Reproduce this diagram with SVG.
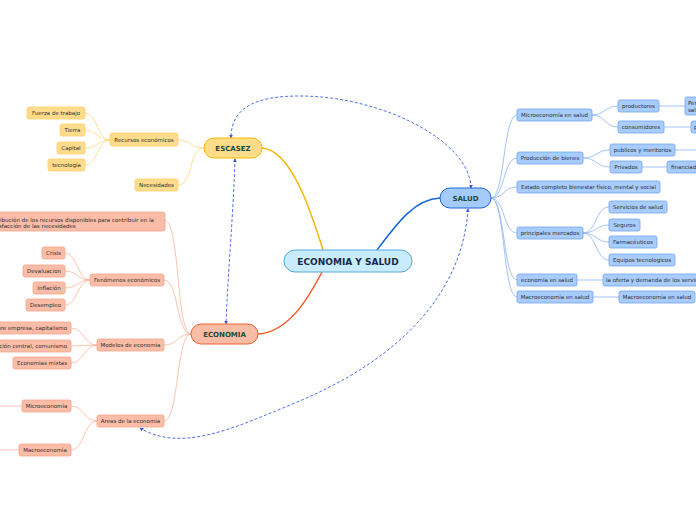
<svg xmlns="http://www.w3.org/2000/svg" width="696" height="520" viewBox="0 0 696 520">
<style>
text{font-family:"DejaVu Sans","Verdana",sans-serif;font-size:5.5px;fill:#2e2e2e}
.t{font-weight:bold;font-size:7px;fill:#1c4a3c;text-anchor:middle}
.c{font-weight:bold;font-size:9px;fill:#172848;text-anchor:middle}
.m{text-anchor:middle}
.e{text-anchor:end}
.y{fill:#ffdc8c;stroke:#ffcf6a;stroke-width:0.8}
.r{fill:#fbbda8;stroke:#f8a58a;stroke-width:0.8}
.b{fill:#a8ccfc;stroke:#74a4ef;stroke-width:0.8}
.ly{fill:none;stroke:#ffd580;stroke-width:0.8}
.lr{fill:none;stroke:#fbb29c;stroke-width:0.8}
.lb{fill:none;stroke:#8cb4f4;stroke-width:0.8}
.d{fill:none;stroke:#4f6fe6;stroke-width:1;stroke-dasharray:3 2;marker-start:url(#ah);marker-end:url(#ah)}
</style>
<defs>
<marker id="ah" viewBox="0 0 6 6" refX="5" refY="3" markerWidth="4" markerHeight="4" orient="auto-start-reverse" markerUnits="userSpaceOnUse">
<path d="M0,0 L6,3 L0,6 z" fill="#3b5bdb"/>
</marker>
</defs>
<rect width="696" height="520" fill="#ffffff"/>
<g id="connectors">
<path d="M262,148 C292,150 312,215 323,250" fill="none" stroke="#f7b500" stroke-width="1.5"/>
<path d="M258,334 C290,332 310,295 322,272" fill="none" stroke="#f05a28" stroke-width="1.5"/>
<path d="M377,250 C398,222 415,199 440,198" fill="none" stroke="#1565d8" stroke-width="1.5"/>
<path class="ly" d="M204,148 C190,148 192,140 178,140"/>
<path class="ly" d="M204,148 C188,148 194,185 178,185"/>
<path class="ly" d="M110,140 C98,140 97,113 85,113"/>
<path class="ly" d="M110,140 C98,140 97,130 85,130"/>
<path class="ly" d="M110,140 C98,140 97,148 85,148"/>
<path class="ly" d="M110,140 C98,140 97,165 85,165"/>
<path class="lr" d="M191,334 C176,334 180,221 165,221"/>
<path class="lr" d="M191,334 C176,334 179,280 164,280"/>
<path class="lr" d="M191,334 C176,334 179,345 164,345"/>
<path class="lr" d="M191,334 C176,334 179,421 164,421"/>
<path class="lr" d="M90,280 C78,280 77,253 65,253"/>
<path class="lr" d="M90,280 C78,280 77,271 65,271"/>
<path class="lr" d="M90,280 C78,280 77,288 65,288"/>
<path class="lr" d="M90,280 C78,280 77,305 65,305"/>
<path class="lr" d="M97,345 C84,345 84,328 71,328"/>
<path class="lr" d="M97,345 L71,346"/>
<path class="lr" d="M97,345 C84,345 84,363 71,363"/>
<path class="lr" d="M97,421 C84,421 84,406 71,406"/>
<path class="lr" d="M97,421 C84,421 84,450 71,450"/>
<path class="lr" d="M22,406 L0,406"/>
<path class="lr" d="M19,450 L0,450"/>
<path class="lb" d="M491,198 C505,198 503,115 517,115"/>
<path class="lb" d="M491,198 C505,198 503,158 517,158"/>
<path class="lb" d="M491,198 C505,198 503,187 517,187"/>
<path class="lb" d="M491,198 C505,198 503,233 517,233"/>
<path class="lb" d="M491,198 C505,198 503,280 517,280"/>
<path class="lb" d="M491,198 C505,198 503,297 517,297"/>
<path class="lb" d="M592,115 C605,115 605,106 618,106"/>
<path class="lb" d="M592,115 C605,115 605,127 618,127"/>
<path class="lb" d="M583,158 C597,158 596,150 610,150"/>
<path class="lb" d="M583,158 C597,158 596,167 610,167"/>
<path class="lb" d="M583,233 C596,233 596,207 609,207"/>
<path class="lb" d="M583,233 C596,233 596,225 609,225"/>
<path class="lb" d="M583,233 C596,233 596,242 609,242"/>
<path class="lb" d="M583,233 C596,233 596,260 609,260"/>
<path class="lb" d="M659,106 L685,106"/>
<path class="lb" d="M664,127 L691,127"/>
<path class="lb" d="M675,150 L696,150"/>
<path class="lb" d="M642,167 L667,167"/>
<path class="lb" d="M577,280 L603,280"/>
<path class="lb" d="M593,297 L619,297"/>
<path class="d" d="M471,188 C470,140 380,96 300,96 C260,96 231,105 231,138"/>
<path class="d" d="M235,159 C233,220 228,270 226,324"/>
<path class="d" d="M468,209 C462,300 390,365 290,405 C230,430 180,452 140,428"/>
</g>
<g id="center"><rect x="284" y="250" width="128" height="22" rx="11" fill="#c8ecfc" stroke="#5ba8dc" stroke-width="1"/><text class="c" x="348" y="264.5">ECONOMIA Y SALUD</text></g>
<g id="escasez"><rect x="204" y="138" width="58" height="20" rx="10" fill="#ffdc8a" stroke="#f7b800" stroke-width="1"/><text class="t" x="233" y="150.5">ESCASEZ</text></g>
<g id="salud"><rect x="440" y="188" width="51" height="20" rx="10" fill="#a5cafc" stroke="#1e64d8" stroke-width="1"/><text class="t" x="465.5" y="200.5">SALUD</text></g>
<g id="economia"><rect x="191" y="324" width="67" height="20" rx="10" fill="#fbbca6" stroke="#f06030" stroke-width="1"/><text class="t" x="224.5" y="336.5">ECONOMIA</text></g>
<g id="recursos"><rect class="y" x="110" y="133" width="68" height="13" rx="2"/><text class="m" x="144" y="141.5">Recursos económicos</text></g>
<g id="fuerza"><rect class="y" x="27" y="107" width="58" height="12" rx="2"/><text class="m" x="56" y="115">Fuerza de trabajo</text></g>
<g id="tierra"><rect class="y" x="60" y="124" width="25" height="12" rx="2"/><text class="m" x="72.5" y="132">Tierra</text></g>
<g id="capital"><rect class="y" x="57" y="142" width="28" height="12" rx="2"/><text class="m" x="71" y="150">Capital</text></g>
<g id="tecnologia"><rect class="y" x="48" y="159" width="37" height="12" rx="2"/><text class="m" x="66.5" y="167">tecnología</text></g>
<g id="necesidades"><rect class="y" x="135" y="179" width="43" height="12" rx="2"/><text class="m" x="156.5" y="187">Necesidades</text></g>
<g id="distribucion"><rect class="r" x="-40" y="212" width="205" height="19" rx="2"/><text x="-13" y="221.5">Distribución de los recursos disponibles para contribuir en la</text><text x="-11" y="228">satisfacción de las necesidades</text></g>
<g id="fenomenos"><rect class="r" x="90" y="274" width="74" height="12" rx="2"/><text class="m" x="127" y="282">Fenómenos económicos</text></g>
<g id="crisis"><rect class="r" x="42" y="247" width="23" height="12" rx="2"/><text class="m" x="53.5" y="255">Crisis</text></g>
<g id="devaluacion"><rect class="r" x="23" y="265" width="42" height="12" rx="2"/><text class="m" x="44" y="273">Devaluacion</text></g>
<g id="inflacion"><rect class="r" x="33" y="282" width="32" height="12" rx="2"/><text class="m" x="49" y="290">Inflación</text></g>
<g id="desempleo"><rect class="r" x="26" y="299" width="39" height="12" rx="2"/><text class="m" x="45.5" y="307">Desempleo</text></g>
<g id="modelos"><rect class="r" x="97" y="339" width="67" height="12" rx="2"/><text class="m" x="130.5" y="347">Modelos de economia</text></g>
<g id="libre"><rect class="r" x="-30" y="322" width="101" height="12" rx="2"/><text class="e" x="67" y="330">Libre empresa, capitalismo</text></g>
<g id="planificacion"><rect class="r" x="-50" y="340" width="121" height="12" rx="2"/><text class="e" x="67" y="348">Planificación central, comunismo</text></g>
<g id="mixtas"><rect class="r" x="13" y="357" width="58" height="12" rx="2"/><text class="m" x="42" y="365">Economias mixtas</text></g>
<g id="areas"><rect class="r" x="97" y="415" width="67" height="12" rx="2"/><text class="m" x="130.5" y="423">Areas de la economia</text></g>
<g id="micro"><rect class="r" x="22" y="400" width="49" height="12" rx="2"/><text class="m" x="46.5" y="408">Microeconomía</text></g>
<g id="macro"><rect class="r" x="19" y="444" width="52" height="12" rx="2"/><text class="m" x="45" y="452">Macroeconomía</text></g>
<g id="microsalud"><rect class="b" x="517" y="109" width="75" height="12" rx="2"/><text class="m" x="554.5" y="117">Microeconomía en salud</text></g>
<g id="productores"><rect class="b" x="618" y="100" width="41" height="12" rx="2"/><text class="m" x="638.5" y="108">productores</text></g>
<g id="personal"><rect class="b" x="685" y="97" width="60" height="18" rx="2"/><text x="688" y="105">Personal de</text><text x="688" y="112">salud</text></g>
<g id="consumidores"><rect class="b" x="618" y="121" width="46" height="12" rx="2"/><text class="m" x="641" y="129">consumidores</text></g>
<g id="pacientes"><rect class="b" x="691" y="121" width="40" height="12" rx="2"/><text x="694" y="129">pacientes</text></g>
<g id="produccion"><rect class="b" x="517" y="152" width="66" height="12" rx="2"/><text class="m" x="550" y="160">Producción de bienes</text></g>
<g id="publicos"><rect class="b" x="610" y="144" width="65" height="12" rx="2"/><text class="m" x="642.5" y="152">publicos y meritorios</text></g>
<g id="privados"><rect class="b" x="610" y="161" width="32" height="12" rx="2"/><text class="m" x="626" y="169">Privados</text></g>
<g id="financiados"><rect class="b" x="667" y="161" width="45" height="12" rx="2"/><text x="671" y="169">financiados</text></g>
<g id="estado"><rect class="b" x="517" y="181" width="143" height="12" rx="2"/><text class="m" x="588.5" y="189">Estado completo bienestar físico, mental y social</text></g>
<g id="mercados"><rect class="b" x="517" y="227" width="66" height="12" rx="2"/><text class="m" x="550" y="235">principales mercados</text></g>
<g id="servicios"><rect class="b" x="609" y="201" width="58" height="12" rx="2"/><text class="m" x="638" y="209">Servicios de salud</text></g>
<g id="seguros"><rect class="b" x="609" y="219" width="31" height="12" rx="2"/><text class="m" x="624.5" y="227">Seguros</text></g>
<g id="farmaceuticos"><rect class="b" x="609" y="236" width="48" height="12" rx="2"/><text class="m" x="633" y="244">Farmacéuticos</text></g>
<g id="equipos"><rect class="b" x="609" y="254" width="66" height="12" rx="2"/><text class="m" x="642" y="262">Equipos tecnologicos</text></g>
<g id="ecosalud"><rect class="b" x="517" y="274" width="60" height="12" rx="2"/><text class="m" x="547" y="282">economia en salud</text></g>
<g id="oferta"><rect class="b" x="603" y="274" width="150" height="12" rx="2"/><text x="606" y="282">la oferta y demanda de los servicios de salud</text></g>
<g id="macrosalud"><rect class="b" x="517" y="291" width="76" height="12" rx="2"/><text class="m" x="555" y="299">Macroeconomía en salud</text></g>
<g id="macrosalud2"><rect class="b" x="619" y="291" width="76" height="12" rx="2"/><text class="m" x="657" y="299">Macroeconomía en salud</text></g>
</svg>
